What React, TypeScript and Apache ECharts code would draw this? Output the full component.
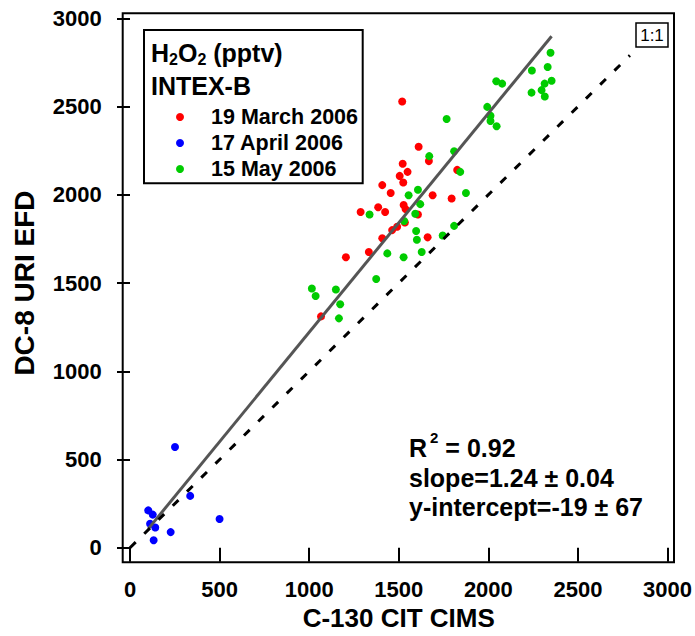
import React, { useEffect, useRef } from "react";
import * as echarts from "echarts";

// ---- data (x = C-130 CIT CIMS, y = DC-8 URI EFD, pptv) ----
const march19: [number, number][] = [
  [1519, 2529], [1611, 2272], [1522, 2176], [1549, 2130], [1505, 2107], [1525, 2070],
  [1408, 2055], [1455, 2010], [1668, 2191], [1826, 2141], [1689, 1997], [1795, 1979],
  [1527, 1942], [1538, 1919], [1385, 1929], [1424, 1903], [1287, 1903], [1607, 1888],
  [1534, 1843], [1491, 1819], [1463, 1800], [1408, 1754], [1661, 1759], [1333, 1676],
  [1205, 1646], [1066, 1311],
];
const april17: [number, number][] = [
  [251, 571], [102, 212], [127, 188], [336, 294], [112, 136], [141, 115],
  [227, 89], [132, 43], [500, 163],
];
const may15: [number, number][] = [
  [1994, 2498], [2012, 2448], [2012, 2418], [2046, 2388], [1767, 2429], [1809, 2247],
  [1670, 2219], [1843, 2130], [1875, 2010], [1607, 2029], [1555, 1997], [1620, 1947],
  [1592, 1893], [1337, 1888], [1530, 1852], [1597, 1795], [1601, 1745], [1809, 1824],
  [1745, 1769], [1628, 1676], [1436, 1668], [1527, 1646], [1374, 1523], [1015, 1469],
  [1036, 1427], [1149, 1463], [1173, 1380], [1166, 1300], [2347, 2805], [2331, 2724],
  [2243, 2704], [2044, 2643], [2077, 2630], [2353, 2646], [2314, 2630], [2297, 2593],
  [2241, 2579], [2315, 2557],
];
const seriesNames = ["19 March 2006", "17 April 2006", "15 May 2006"];
const seriesColors = ["#ff0000", "#0000ff", "#00cc00"];
const fitSlope = 1.24;
const fitIntercept = -19;
const oneToOneMax = 2790;
const axisTicks = [0, 500, 1000, 1500, 2000, 2500, 3000];
const statsLines = ["slope=1.24 ± 0.04", "y-intercept=-19 ± 67"];

const FONT = "'Liberation Sans', Arial, Helvetica, sans-serif";

export default function App() {
  const ref = useRef<HTMLDivElement>(null);
  useEffect(() => {
    if (!ref.current) return;
    const chart = echarts.init(ref.current, null, { renderer: "svg" });
    const allX = [...march19, ...april17, ...may15].map((p) => p[0]);
    const xMin = Math.min(...allX);
    const xMax = Math.max(...allX);
    const fitLine = [
      [xMin, fitSlope * xMin + fitIntercept],
      [xMax, fitSlope * xMax + fitIntercept],
    ];
    const groups = [march19, april17, may15];
    const axMin = axisTicks[0];
    const axMax = axisTicks[axisTicks.length - 1];
    const axInt = axisTicks[1] - axisTicks[0];

    const labelStyle = {
      color: "#000",
      fontSize: 22,
      fontWeight: "bold" as const,
      fontFamily: FONT,
      formatter: (v: number) => String(v),
    };
    const nameStyle = { color: "#000", fontWeight: "bold" as const, fontFamily: FONT };

    chart.setOption({
      animation: false,
      grid: { left: 130, right: 27.3, top: 18.3, bottom: 80 },
      xAxis: {
        type: "value",
        min: axMin,
        max: axMax,
        interval: axInt,
        offset: 6.3,
        splitLine: { show: false },
        axisLine: { show: false },
        axisTick: { show: true, length: 14, lineStyle: { color: "#000", width: 2 } },
        axisLabel: { ...labelStyle, margin: 24 },
        name: "C-130 CIT CIMS",
        nameLocation: "middle",
        nameGap: 48,
        nameTextStyle: { ...nameStyle, fontSize: 26 },
      },
      yAxis: {
        type: "value",
        min: axMin,
        max: axMax,
        interval: axInt,
        offset: 7.3,
        splitLine: { show: false },
        axisLine: { show: false },
        axisTick: { show: true, length: 13, lineStyle: { color: "#000", width: 2 } },
        axisLabel: { ...labelStyle, margin: 21 },
        name: "DC-8 URI EFD",
        nameLocation: "middle",
        nameGap: 84,
        nameTextStyle: { ...nameStyle, fontSize: 28 },
      },
      legend: {
        data: seriesNames,
        orient: "vertical",
        left: 171,
        top: 101,
        icon: "circle",
        itemWidth: 8,
        itemHeight: 8,
        itemGap: 4,
        textStyle: {
          color: "#000",
          fontSize: 21.5,
          fontWeight: "bold",
          fontFamily: FONT,
          lineHeight: 21,
          padding: [0, 0, 0, 22],
        },
      },
      series: [
        ...groups.map((g, i) => ({
          type: "scatter",
          name: seriesNames[i],
          data: g,
          symbol: "circle",
          symbolSize: 8,
          itemStyle: { color: seriesColors[i], opacity: 1 },
          clip: false,
          z: 2,
        })),
        {
          type: "line",
          data: fitLine,
          symbol: "none",
          lineStyle: { color: "#555555", width: 3 },
          z: 3,
          silent: true,
        },
        {
          type: "line",
          data: [
            [0, 0],
            [oneToOneMax, oneToOneMax],
          ],
          symbol: "none",
          lineStyle: { color: "#000", width: 3, type: [8, 12] },
          z: 3,
          silent: true,
        },
      ],
      graphic: [
        {
          type: "rect",
          shape: { x: 122.7, y: 13.3, width: 674 - 122.7, height: 562.3 - 13.3 },
          style: { fill: "none", stroke: "#000", lineWidth: 2 },
          silent: true,
        },
        {
          type: "rect",
          shape: { x: 144, y: 30, width: 362.7 - 144, height: 183.3 - 30 },
          style: { fill: "#fff", stroke: "#000", lineWidth: 2 },
          z: 0,
          silent: true,
        },
        {
          type: "text",
          x: 151,
          y: 53,
          style: {
            text: "{m|H}{s|2}{m|O}{s|2}{m| (pptv)}",
            verticalAlign: "middle",
            rich: {
              m: { fontSize: 25, fontWeight: "bold", fontFamily: FONT, fill: "#000" },
              s: { fontSize: 16, fontWeight: "bold", fontFamily: FONT, fill: "#000", padding: [13, 0, 0, 0] },
            },
          },
        },
        {
          type: "text",
          x: 151,
          y: 86,
          style: {
            text: "INTEX-B",
            verticalAlign: "middle",
            fontSize: 25,
            fontWeight: "bold",
            fontFamily: FONT,
            fill: "#000",
          },
        },
        {
          type: "rect",
          shape: { x: 636, y: 23, width: 32, height: 24 },
          style: { fill: "#fff", stroke: "#000", lineWidth: 1.5 },
          silent: true,
        },
        {
          type: "text",
          x: 652,
          y: 35,
          style: {
            text: "1:1",
            align: "center",
            verticalAlign: "middle",
            fontSize: 17,
            fontFamily: FONT,
            fill: "#000",
          },
        },
        {
          type: "text",
          x: 409,
          y: 448,
          style: {
            text: "{m|R}{p|2}{m| = 0.92}",
            verticalAlign: "middle",
            rich: {
              m: { fontSize: 25, fontWeight: "bold", fontFamily: FONT, fill: "#000" },
              p: { fontSize: 15, fontWeight: "bold", fontFamily: FONT, fill: "#000", padding: [0, 0, 22, 3] },
            },
          },
        },
        ...statsLines.map((t, i) => ({
          type: "text",
          x: 409,
          y: 478 + i * 29,
          style: {
            text: t,
            verticalAlign: "middle",
            fontSize: 25,
            fontWeight: "bold",
            fontFamily: FONT,
            fill: "#000",
          },
        })),
      ],
    });
    return () => chart.dispose();
  }, []);
  return <div ref={ref} style={{ width: 695, height: 636, position: "absolute", left: 0, top: 0 }} />;
}
